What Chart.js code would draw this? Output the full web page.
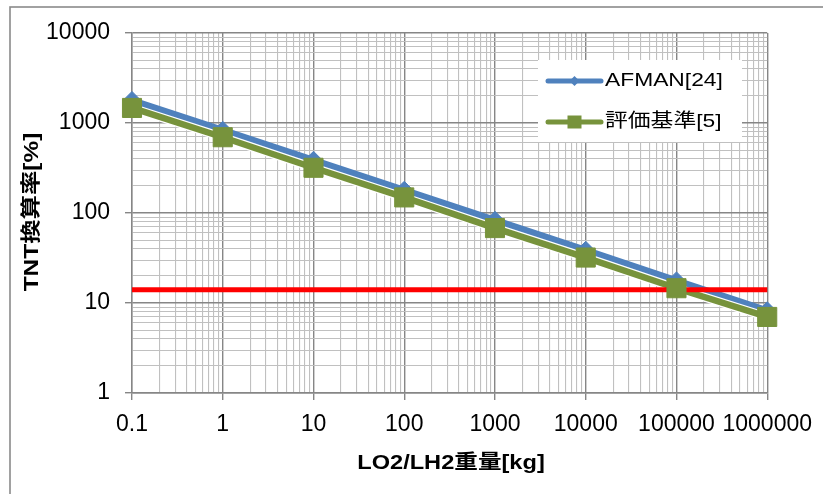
<!DOCTYPE html>
<html>
<head>
<meta charset="utf-8">
<script src="https://cdn.jsdelivr.net/npm/chart.js@4.4.1/dist/chart.umd.min.js"></script>
<style>
  html, body { margin: 0; padding: 0; background: #fff; }
  canvas { display: block; }
</style>
</head>
<body>
<canvas id="c" width="823" height="494"></canvas>
<script>
// LO2/LH2 weight [kg] and TNT equivalence [%]
const weights = [0.1, 1, 10, 100, 1000, 10000, 100000, 1000000];
const afmanValues = [1780, 830, 385, 179, 83, 38.5, 17.6, 8.2];
const criteriaValues = [1470, 695, 318, 149, 68, 32, 14.6, 7.0];
const limitValue = 14;

const seriesNames = ['AFMAN[24]', '評価基準[5]'];
const xTickLabels = ['0.1', '1', '10', '100', '1000', '10000', '100000', '1000000'];
const yTickLabels = ['1', '10', '100', '1000', '10000'];
const xTitle = 'LO2/LH2重量[kg]';
const yTitle = 'TNT換算率[%]';

const BLUE = '#4F81BD';
const GREEN = '#77933C';
const RED = '#FF0000';
const MAJOR_GRID = '#868686';
const MINOR_GRID = '#c0c0c0';
const TICK_FONT = { family: '"Liberation Sans", Arial, sans-serif', size: 23 };

// decade ticks plus 2..9 minor ticks inside each decade
function decadeTicks(labels) {
  const majors = labels.map(Number);
  const out = [];
  majors.forEach((v, i) => {
    out.push({ value: v, major: true });
    if (i < majors.length - 1) {
      for (let m = 2; m <= 9; m++) out.push({ value: v * m, major: false });
    }
  });
  return out;
}

function labelFor(labels, value) {
  const hit = labels.find(l => Math.abs(Math.log10(Number(l)) - Math.log10(value)) < 1e-9);
  return hit === undefined ? '' : hit;
}

const toPoints = vals => weights.map((w, i) => ({ x: w, y: vals[i] }));

function gridOptions() {
  return {
    drawOnChartArea: true,
    drawTicks: true,
    tickLength: 7,
    color: ctx => (ctx.tick && ctx.tick.major ? MAJOR_GRID : MINOR_GRID),
    lineWidth: ctx => (ctx.tick && ctx.tick.major ? 1.4 : 1.1),
    tickColor: ctx => (ctx.tick && ctx.tick.major ? MAJOR_GRID : 'rgba(0,0,0,0)'),
    tickWidth: 1.4
  };
}

function stretchedText(ctx, text, x, y, sx, font, align) {
  ctx.save();
  ctx.translate(x, y);
  ctx.scale(sx, 1);
  ctx.font = font;
  ctx.textAlign = align;
  ctx.textBaseline = 'middle';
  ctx.fillStyle = '#000';
  ctx.fillText(text, 0, 0);
  ctx.restore();
}

const decorations = {
  id: 'decorations',
  beforeDraw(chart) {
    const ctx = chart.ctx;
    ctx.save();
    ctx.fillStyle = '#fff';
    ctx.fillRect(0, 0, chart.width, chart.height);
    ctx.strokeStyle = '#8a8a8a';
    ctx.lineWidth = 1.6;
    ctx.strokeRect(10, 7, chart.width + 50, chart.height + 50);
    ctx.restore();
  },
  afterDraw(chart) {
    const ctx = chart.ctx;
    const titleFont = 'bold 20px "Liberation Sans", "Noto Sans CJK JP", sans-serif';

    // axis titles
    stretchedText(ctx, xTitle, 451, 463, 1.18, titleFont, 'center');
    ctx.save();
    ctx.translate(32, 212);
    ctx.rotate(-Math.PI / 2);
    stretchedText(ctx, yTitle, 0, 0, 1.22, titleFont, 'center');
    ctx.restore();

    // legend box
    ctx.save();
    ctx.fillStyle = '#fff';
    ctx.fillRect(538, 60, 204, 82);
    const legendFont = '19px "Liberation Sans", "Noto Sans CJK JP", sans-serif';
    const rows = [
      { y: 81, color: BLUE, marker: 'diamond', text: seriesNames[0] },
      { y: 122, color: GREEN, marker: 'square', text: seriesNames[1] }
    ];
    rows.forEach(r => {
      ctx.strokeStyle = r.color;
      ctx.lineWidth = 5;
      ctx.lineCap = 'round';
      ctx.beginPath();
      ctx.moveTo(548, r.y);
      ctx.lineTo(601, r.y);
      ctx.stroke();
      ctx.fillStyle = r.color;
      ctx.beginPath();
      if (r.marker === 'diamond') {
        const cx = 574.5, s = 5;
        ctx.moveTo(cx - s, r.y);
        ctx.lineTo(cx, r.y - s);
        ctx.lineTo(cx + s, r.y);
        ctx.lineTo(cx, r.y + s);
        ctx.closePath();
      } else {
        ctx.rect(574.5 - 7, r.y - 6.5, 14, 13);
      }
      ctx.fill();
      stretchedText(ctx, r.text, 605, r.y, 1.2, legendFont, 'left');
    });
    ctx.restore();
  }
};

new Chart(document.getElementById('c'), {
  type: 'line',
  data: {
    datasets: [
      { label: seriesNames[0], data: toPoints(afmanValues), borderColor: BLUE, borderWidth: 7,
        pointRadius: 0, order: 5, borderJoinStyle: 'round', clip: false },
      { label: seriesNames[1] + ' outline', data: toPoints(criteriaValues), borderColor: '#ffffff', borderWidth: 9,
        pointRadius: 0, order: 4, borderJoinStyle: 'round', clip: false },
      { label: seriesNames[1], data: toPoints(criteriaValues), borderColor: GREEN, borderWidth: 6.5,
        pointRadius: 0, order: 3, borderJoinStyle: 'round', clip: false },
      { label: 'limit', data: [{ x: weights[0], y: limitValue }, { x: weights[weights.length - 1], y: limitValue }],
        borderColor: RED, borderWidth: 5, pointRadius: 0, order: 2, clip: false },
      { label: seriesNames[0] + ' markers', data: toPoints(afmanValues), showLine: false, pointStyle: 'rectRot',
        pointRadius: 9, backgroundColor: BLUE, borderColor: BLUE, borderWidth: 1, order: 1, clip: false },
      { label: seriesNames[1] + ' markers', data: toPoints(criteriaValues), showLine: false, pointStyle: 'rect',
        pointRadius: 13.5, backgroundColor: GREEN, borderColor: GREEN, borderWidth: 1, order: 0, clip: false }
    ]
  },
  options: {
    responsive: false,
    animation: false,
    events: [],
    layout: { padding: { left: 0, top: 33, right: 54, bottom: 0 } },
    plugins: { legend: { display: false }, tooltip: { enabled: false }, title: { display: false } },
    scales: {
      x: {
        type: 'logarithmic',
        min: 0.1,
        max: 1000000,
        afterBuildTicks: scale => { scale.ticks = decadeTicks(xTickLabels); },
        afterFit: scale => { scale.height = 101; },
        border: { display: true, color: MAJOR_GRID, width: 1.4 },
        grid: gridOptions(),
        ticks: {
          autoSkip: false,
          maxRotation: 0,
          minRotation: 0,
          padding: 11,
          color: '#000',
          font: TICK_FONT,
          callback: value => labelFor(xTickLabels, value)
        }
      },
      y: {
        type: 'logarithmic',
        min: 1,
        max: 10000,
        afterBuildTicks: scale => { scale.ticks = decadeTicks(yTickLabels); },
        afterFit: scale => { scale.width = 132; },
        border: { display: true, color: MAJOR_GRID, width: 1.4 },
        grid: gridOptions(),
        ticks: {
          autoSkip: false,
          padding: 15,
          color: '#000',
          font: TICK_FONT,
          callback: value => labelFor(yTickLabels, value)
        }
      }
    }
  },
  plugins: [decorations]
});
</script>
</body>
</html>
